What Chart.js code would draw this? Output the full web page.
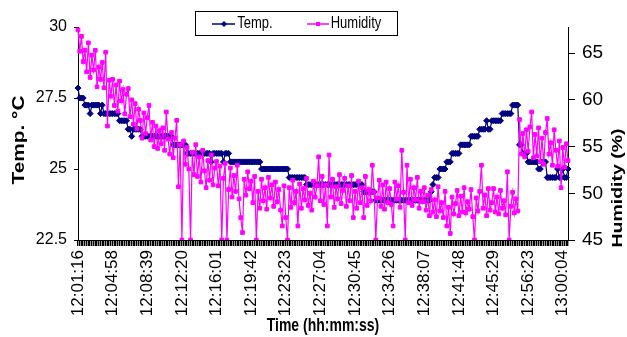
<!DOCTYPE html>
<html>
<head>
<meta charset="utf-8">
<script src="https://cdn.jsdelivr.net/npm/chart.js@4.4.1/dist/chart.umd.min.js"></script>
<style>
  html, body { margin: 0; padding: 0; background: #fff; }
  #wrap { width: 627px; height: 337px; }
</style>
</head>
<body>
<div id="wrap"><canvas id="chart" width="627" height="337"></canvas></div>
<script>
// one label every STEP samples
const STEP = 20;
const tickLabels = ['12:01:16', '12:04:58', '12:08:39', '12:12:20', '12:16:01', '12:19:42', '12:23:23',
  '12:27:04', '12:30:45', '12:34:26', '12:38:07', '12:41:48', '12:45:29', '12:56:23', '13:00:04'];

// temperature, °C (left axis)
const temp = [
  27.85, 27.5, 27.5, 27.5, 27.25, 27.25, 27.25, 26.95, 27.25, 27.25, 27.25, 27.25, 27.25, 26.95, 27.25, 26.95, 26.95, 26.95, 26.95, 26.95,
  26.95, 26.95, 26.95, 26.95, 26.7, 26.7, 26.7, 26.7, 26.7, 26.4, 26.4, 26.15, 26.4, 26.4, 26.4, 26.4, 26.4, 26.15, 26.15, 26.15,
  26.15, 26.15, 26.15, 26.15, 26.15, 26.15, 26.15, 26.15, 26.15, 26.15, 26.15, 26.15, 26.15, 26.15, 26.15, 25.85, 25.85, 25.85, 25.85, 25.85,
  25.85, 25.85, 25.85, 25.55, 25.55, 25.55, 25.55, 25.55, 25.55, 25.55, 25.55, 25.55, 25.55, 25.55, 25.55, 25.55, 25.55, 25.25, 25.55, 25.55,
  25.55, 25.55, 25.55, 25.55, 25.25, 25.55, 25.55, 25.55, 25.25, 25.25, 25.25, 25.25, 25.25, 25.25, 25.25, 25.25, 25.25, 25.25, 25.25, 25.25,
  25.25, 25.25, 25.25, 25.25, 25.25, 25.25, 25.0, 25.0, 25.0, 25.0, 25.0, 25.0, 25.0, 25.0, 25.0, 25.0, 25.0, 25.0, 25.0, 25.0,
  25.0, 25.0, 24.7, 24.7, 24.7, 24.7, 24.7, 24.7, 24.7, 24.7, 24.7, 24.7, 24.45, 24.45, 24.45, 24.45, 24.45, 24.45, 24.45, 24.45,
  24.45, 24.45, 24.45, 24.45, 24.45, 24.45, 24.45, 24.45, 24.45, 24.45, 24.45, 24.45, 24.45, 24.45, 24.45, 24.45, 24.45, 24.45, 24.45, 24.45,
  24.45, 24.45, 24.45, 24.45, 24.45, 24.2, 24.2, 24.2, 24.2, 24.2, 24.2, 24.2, 23.9, 23.9, 23.9, 23.9, 23.9, 23.9, 23.9, 23.9,
  23.9, 23.9, 23.9, 23.9, 23.9, 23.9, 23.9, 23.9, 23.9, 23.9, 23.9, 23.9, 23.9, 23.9, 23.9, 23.9, 23.9, 23.9, 23.9, 23.9,
  23.9, 23.9, 23.9, 23.9, 24.2, 24.45, 24.7, 24.7, 24.7, 25.0, 25.0, 25.0, 25.0, 25.25, 25.25, 25.25, 25.55, 25.55, 25.55, 25.55,
  25.55, 25.85, 25.85, 25.85, 25.85, 25.85, 25.85, 26.15, 26.15, 26.15, 26.15, 26.15, 26.4, 26.4, 26.4, 26.4, 26.7, 26.4, 26.4, 26.7,
  26.7, 26.7, 26.7, 26.7, 26.7, 26.95, 26.95, 26.95, 26.95, 26.95, 26.95, 27.25, 27.25, 27.25, 27.25, 25.85, 25.85, 25.55, 25.55, 25.55,
  25.25, 25.25, 25.25, 25.25, 25.25, 25.25, 25.0, 25.0, 25.25, 25.25, 25.25, 24.7, 24.7, 24.7, 24.7, 24.7, 24.7, 25.0, 24.7, 24.7,
  25.0, 24.7, 24.7, 25.0
];

// relative humidity, % (right axis)
const humidity = [
  67.5, 65.2, 66.8, 64.1, 65.3, 63.0, 66.1, 62.4, 64.8, 63.2, 65.3, 61.4, 63.5, 62.2, 64.0, 61.3, 65.1, 57.2, 62.1, 60.4,
  62.2, 59.4, 61.6, 58.8, 62.0, 59.9, 61.1, 58.5, 60.6, 61.2, 58.2, 60.0, 57.4, 59.6, 56.9, 59.0, 57.8, 55.9, 58.6, 56.4,
  58.1, 59.4, 55.7, 57.6, 55.0, 57.2, 54.8, 56.7, 55.3, 57.0, 54.6, 58.7, 55.8, 54.2, 56.5, 53.8, 55.9, 57.8, 50.7, 55.2,
  45.0, 55.6, 53.1, 54.9, 52.6, 45.0, 54.4, 52.0, 55.2, 51.8, 53.9, 51.2, 54.6, 52.4, 50.6, 53.5, 51.4, 54.1, 50.9, 52.7,
  53.4, 50.8, 52.9, 45.0, 51.6, 53.2, 45.0, 50.4, 52.7, 49.6, 51.9, 50.2, 53.0, 49.4, 47.4, 45.8, 51.5, 49.8, 52.3, 50.5,
  51.3, 49.0, 51.8, 45.0, 50.2, 48.4, 51.5, 49.2, 50.6, 48.3, 51.7, 49.5, 50.9, 48.6, 51.2, 49.1, 50.4, 48.2, 46.5, 50.8,
  47.4, 45.0, 50.6, 48.5, 51.4, 49.0, 50.2, 46.5, 51.0, 48.4, 50.5, 49.3, 51.6, 48.7, 50.0, 48.2, 51.3, 49.6, 50.8, 53.9,
  49.2, 51.8, 48.8, 50.9, 46.5, 54.1, 49.6, 51.5, 48.5, 50.7, 49.4, 52.0, 48.9, 50.3, 51.6, 48.6, 50.8, 49.2, 51.9, 47.4,
  50.2, 48.4, 51.3, 49.0, 50.6, 47.4, 51.8, 48.7, 50.4, 49.2, 53.0, 50.1, 45.0, 49.5, 51.4, 48.6, 50.9, 48.3, 51.2, 49.0,
  50.5, 48.8, 46.5, 51.2, 49.4, 50.8, 48.5, 54.6, 50.1, 45.0, 53.0, 49.0, 51.5, 48.7, 50.6, 49.3, 51.7, 48.4, 50.2, 49.1,
  50.6, 48.2, 49.8, 47.6, 50.4, 48.0, 49.3, 47.5, 50.7, 48.1, 49.0, 47.4, 50.2, 46.5, 48.5, 45.7, 49.6, 47.8, 48.9, 50.3,
  47.6, 49.7, 48.0, 50.6, 47.9, 49.1, 48.3, 50.4, 47.5, 45.0, 49.5, 48.1, 50.2, 53.0, 48.4, 49.8, 47.6, 50.5, 48.2, 49.0,
  50.5, 48.0, 49.6, 47.8, 50.3, 48.4, 49.2, 47.7, 52.3, 45.0, 48.6, 50.1, 47.9, 49.4, 48.1, 57.9, 54.2, 56.4, 53.9, 56.8,
  54.5, 57.1, 58.7, 53.8, 56.3, 54.0, 57.0, 53.4, 55.9, 53.1, 56.5, 58.0, 54.2, 55.4, 53.0, 56.8, 54.6, 52.9, 55.6, 50.6,
  54.9, 52.8, 55.3, 53.5
];

const categories = temp.map((_, i) => i % STEP === 0 ? tickLabels[i / STEP] : '');

const FONT = "'Liberation Sans', Arial, sans-serif";
const NAVY = '#000080';
const MAGENTA = '#ff00ff';

// text stretched along its height like the source image; angle -90° reads bottom to top
function stretchedText(ctx, text, x, y, font, rotated, stretch) {
  ctx.save();
  ctx.font = font;
  ctx.fillStyle = '#000';
  ctx.textAlign = 'center';
  ctx.textBaseline = 'middle';
  ctx.translate(x, y);
  if (rotated) {
    ctx.rotate(-Math.PI / 2);
    ctx.scale(stretch, 1);
  } else {
    ctx.scale(1, stretch);
  }
  ctx.fillText(text, 0, 0);
  ctx.restore();
}

// legend box and the axis titles
const extras = {
  id: 'extras',
  afterDraw(chart) {
    const ctx = chart.ctx;
    ctx.save();
    ctx.strokeStyle = '#000';
    ctx.lineWidth = 1;
    ctx.strokeRect(195.5, 11.5, 202, 24);

    ctx.lineWidth = 1.5;
    ctx.strokeStyle = NAVY;
    ctx.beginPath(); ctx.moveTo(212, 24); ctx.lineTo(235, 24); ctx.stroke();
    ctx.fillStyle = NAVY;
    ctx.beginPath();
    ctx.moveTo(224, 21); ctx.lineTo(227, 24); ctx.lineTo(224, 27); ctx.lineTo(221, 24);
    ctx.closePath(); ctx.fill();

    ctx.strokeStyle = MAGENTA;
    ctx.beginPath(); ctx.moveTo(307, 24); ctx.lineTo(329, 24); ctx.stroke();
    ctx.fillStyle = MAGENTA;
    ctx.fillRect(316, 22, 4, 4);
    ctx.restore();

    stretchedText(ctx, 'Temp.', 255, 24, '13px ' + FONT, false, 1.2);
    stretchedText(ctx, 'Humidity', 356, 24, '13px ' + FONT, false, 1.2);
    stretchedText(ctx, 'Time (hh:mm:ss)', 323, 326, 'bold 14px ' + FONT, false, 1.3);
    stretchedText(ctx, 'Temp. °C', 20, 140, 'bold 16px ' + FONT, true, 1.3);
    stretchedText(ctx, 'Humidity (%)', 618, 188, 'bold 15px ' + FONT, true, 1.3);
  }
};

new Chart(document.getElementById('chart'), {
  type: 'line',
  data: {
    labels: categories,
    datasets: [
      {
        label: 'Temp.',
        data: temp,
        yAxisID: 'y',
        borderColor: NAVY,
        backgroundColor: NAVY,
        borderWidth: 1.2,
        pointStyle: 'rectRot',
        pointRadius: 3,
        pointBorderWidth: 1,
        order: 1
      },
      {
        label: 'Humidity',
        data: humidity,
        yAxisID: 'yH',
        borderColor: MAGENTA,
        backgroundColor: MAGENTA,
        borderWidth: 1.2,
        pointStyle: 'rect',
        pointRadius: 2.6,
        pointBorderWidth: 1,
        order: 0
      }
    ]
  },
  options: {
    responsive: false,
    animation: false,
    devicePixelRatio: 1,
    layout: { padding: { top: 27, left: 0, right: 0, bottom: 0 } },
    plugins: {
      legend: { display: false },
      tooltip: { enabled: false }
    },
    scales: {
      x: {
        type: 'category',
        ticks: {
          autoSkip: false, maxRotation: 90, minRotation: 90,
          color: '#000', padding: 4,
          font: { family: FONT, size: 17 }
        },
        grid: { drawOnChartArea: false, color: '#000', lineWidth: 1.4, tickLength: 6 },
        border: { color: '#000', width: 1 },
        afterFit(s) { s.height = 97; }
      },
      y: {
        position: 'left',
        min: 22.5, max: 30,
        ticks: { stepSize: 2.5, color: '#000', padding: 7, font: { family: FONT, size: 16 } },
        grid: { drawOnChartArea: false, color: '#000', tickLength: 4 },
        border: { color: '#000', width: 1 },
        afterFit(s) { s.width = 78; }
      },
      yH: {
        position: 'right',
        min: 45, max: 67.8,
        ticks: { stepSize: 5, color: '#000', padding: 7, font: { family: FONT, size: 19 } },
        afterBuildTicks(s) { s.ticks = s.ticks.filter(t => Math.abs(t.value % 5) < 1e-6); },
        grid: { drawOnChartArea: false, color: '#000', tickLength: 7 },
        border: { color: '#000', width: 1 },
        afterFit(s) { s.width = 59; }
      }
    }
  },
  plugins: [extras]
});
</script>
</body>
</html>
